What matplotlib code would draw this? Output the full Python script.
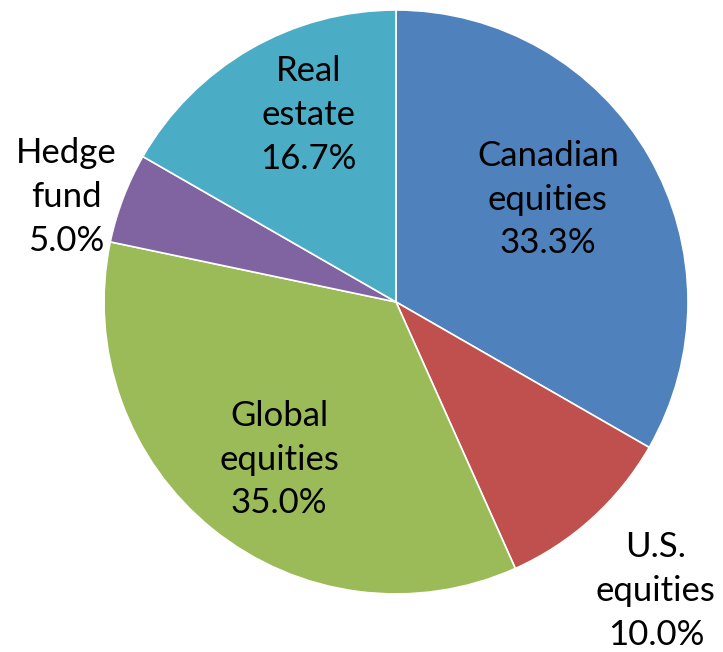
import matplotlib.pyplot as plt

categories = ["Canadian\nequities", "U.S.\nequities", "Global\nequities", "Hedge\nfund", "Real\nestate"]
shares = [33.3, 10.0, 35.0, 5.0, 16.7]
colors = ["#4F81BD", "#C0504D", "#9BBB59", "#8064A2", "#4BACC6"]
# label centers, in pie-radius units
label_pos = [(0.52, 0.35), (0.89, -0.99), (-0.40, -0.54), (-1.13, 0.36), (-0.30, 0.64)]

plt.rcParams['font.family'] = ['Lato', 'DejaVu Sans']

fig = plt.figure(figsize=(7.23, 6.52), dpi=100)
ax = fig.add_axes([0.1439, 0.0890, 0.8077, 0.8957])
ax.pie(shares, colors=colors, startangle=90, counterclock=False, radius=1,
       wedgeprops=dict(edgecolor="white", linewidth=1.2))

for name, val, (x, y) in zip(categories, shares, label_pos):
    ax.text(x, y, f"{name}\n{val:.1f}%", ha="center", va="center",
            fontsize=25, linespacing=1.45, color="black")

ax.set_xlim(-1, 1)
ax.set_ylim(-1, 1)
ax.set_aspect("equal")
ax.axis("off")
fig.savefig("out.png", dpi=100)
